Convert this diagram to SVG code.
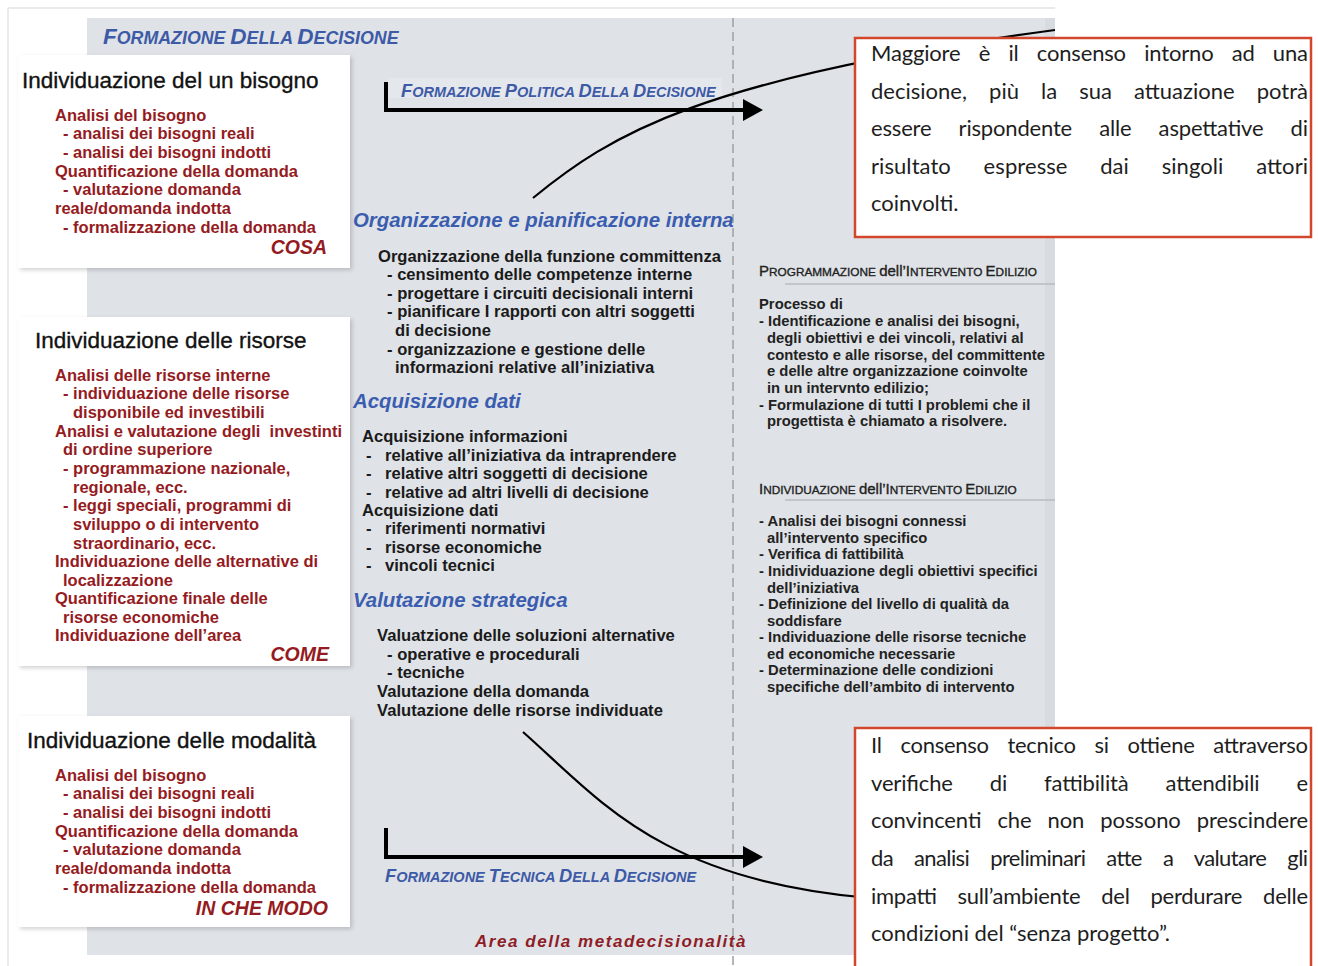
<svg xmlns="http://www.w3.org/2000/svg" width="1318" height="966" viewBox="0 0 1318 966">
  <defs>
    <style>
      .ttl { font-family: "Liberation Sans", Arial, sans-serif; font-size: 22.5px; fill: #121212; stroke: #121212; stroke-width: 0.35px; }
      .red { font-family: "Liberation Sans", Arial, sans-serif; font-size: 16.5px; font-weight: bold; fill: #951b22; }
      .redi { font-family: "Liberation Sans", Arial, sans-serif; font-size: 19.5px; font-weight: bold; font-style: italic; fill: #951b22; text-anchor: end; }
      .blk { font-family: "Liberation Sans", Arial, sans-serif; font-size: 16.6px; font-weight: bold; fill: #1a1a1a; }
      .hd { font-family: "Liberation Sans", Arial, sans-serif; font-size: 20.4px; font-weight: bold; font-style: italic; fill: #3a5db0; }
      .sc { font-family: "Liberation Sans", Arial, sans-serif; font-weight: bold; font-style: italic; fill: #3d5aa6; }
      .rt { font-family: "Liberation Sans", Arial, sans-serif; font-size: 14.8px; font-weight: bold; fill: #222; }
      .rsc { font-family: "Liberation Sans", Arial, sans-serif; fill: #222; stroke: #222; stroke-width: 0.35px; }
      .meta { font-family: "Liberation Sans", Arial, sans-serif; font-size: 17px; font-weight: bold; font-style: italic; fill: #8e1d26; letter-spacing: 1.55px; }
      .note { font-family: Lato, "Open Sans", "Liberation Sans", sans-serif; font-size: 22px; fill: #1e1e1e; }
      .box { fill: #ffffff; filter: url(#soft); }
      .callout { fill: #ffffff; stroke: #d2472c; stroke-width: 2.5px; }
      .flow { fill: none; stroke: #000; stroke-width: 4px; }
      .curve { fill: none; stroke: #000; stroke-width: 2.2px; }
      .uline { stroke: #b9bcc2; stroke-width: 1.5px; }
    </style>
    <filter id="soft" x="-5%" y="-5%" width="112%" height="112%">
      <feDropShadow dx="2" dy="2" stdDeviation="2" flood-color="#000" flood-opacity="0.18"/>
    </filter>
    <marker id="head" viewBox="0 0 20 22" markerWidth="20" markerHeight="22" refX="2" refY="11" orient="auto" markerUnits="userSpaceOnUse">
      <path d="M0,0 L20,11 L0,22 Z" fill="#000"/>
    </marker>
  </defs>

  <!-- page and panel -->
  <rect x="0" y="0" width="1318" height="966" fill="#ffffff"/>
  <line x1="8" y1="8" x2="1055" y2="8" stroke="#e4e4e4" stroke-width="1.5"/>
  <line x1="8" y1="8" x2="8" y2="966" stroke="#e4e4e4" stroke-width="1.5"/>
  <rect x="87" y="18" width="968" height="937" fill="#dfe2e7"/>
  <rect x="1045" y="18" width="10" height="937" fill="#d8dbe0"/>
  <line x1="733" y1="18" x2="733" y2="966" stroke="#a2a4a8" stroke-width="1.6" stroke-dasharray="9 5"/>

  <!-- section title -->
  <g id="title">
    <text class="sc" x="103" y="44" font-size="22.5"><tspan>F</tspan><tspan font-size="17.8">ORMAZIONE </tspan><tspan>D</tspan><tspan font-size="17.8">ELLA </tspan><tspan>D</tspan><tspan font-size="17.8">ECISIONE</tspan></text>
  </g>

  <!-- left column: need, resources, modality -->
  <g id="box-bisogno">
    <rect class="box" x="18" y="55" width="332" height="213"/>
    <text class="ttl" x="22" y="88">Individuazione del un bisogno</text>
    <text class="red" x="55" y="121">Analisi del bisogno</text>
    <text class="red" x="63" y="139">- analisi dei bisogni reali</text>
    <text class="red" x="63" y="158">- analisi dei bisogni indotti</text>
    <text class="red" x="55" y="177">Quantificazione della domanda</text>
    <text class="red" x="63" y="195">- valutazione domanda</text>
    <text class="red" x="55" y="214">reale/domanda indotta</text>
    <text class="red" x="63" y="233">- formalizzazione della domanda</text>
    <text class="redi" x="327" y="254">COSA</text>
  </g>

  <g id="box-risorse">
    <rect class="box" x="18" y="317" width="332" height="349"/>
    <text class="ttl" x="35" y="348">Individuazione delle risorse</text>
    <text class="red" x="55" y="381">Analisi delle risorse interne</text>
    <text class="red" x="63" y="399">- individuazione delle risorse</text>
    <text class="red" x="73" y="418">disponibile ed investibili</text>
    <text class="red" x="55" y="437">Analisi e valutazione degli &#160;investinti</text>
    <text class="red" x="63" y="455">di ordine superiore</text>
    <text class="red" x="63" y="474">- programmazione nazionale,</text>
    <text class="red" x="73" y="493">regionale, ecc.</text>
    <text class="red" x="63" y="511">- leggi speciali, programmi di</text>
    <text class="red" x="73" y="530">sviluppo o di intervento</text>
    <text class="red" x="73" y="549">straordinario, ecc.</text>
    <text class="red" x="55" y="567">Individuazione delle alternative di</text>
    <text class="red" x="63" y="586">localizzazione</text>
    <text class="red" x="55" y="604">Quantificazione finale delle</text>
    <text class="red" x="63" y="623">risorse economiche</text>
    <text class="red" x="55" y="641">Individuazione dell’area</text>
    <text class="redi" x="329" y="661">COME</text>
  </g>

  <g id="box-modalita">
    <rect class="box" x="18" y="716" width="332" height="211"/>
    <text class="ttl" x="27" y="748">Individuazione delle modalità</text>
    <text class="red" x="55" y="781">Analisi del bisogno</text>
    <text class="red" x="63" y="799">- analisi dei bisogni reali</text>
    <text class="red" x="63" y="818">- analisi dei bisogni indotti</text>
    <text class="red" x="55" y="837">Quantificazione della domanda</text>
    <text class="red" x="63" y="855">- valutazione domanda</text>
    <text class="red" x="55" y="874">reale/domanda indotta</text>
    <text class="red" x="63" y="893">- formalizzazione della domanda</text>
    <text class="redi" x="328" y="915">IN CHE MODO</text>
  </g>

  <!-- middle column -->
  <g id="label-politica">
    <rect x="388" y="78" width="334" height="20" fill="#e4e7ec"/>
    <text class="sc" x="401" y="97" font-size="18.3"><tspan>F</tspan><tspan font-size="14.5">ORMAZIONE </tspan><tspan>P</tspan><tspan font-size="14.5">OLITICA </tspan><tspan>D</tspan><tspan font-size="14.5">ELLA </tspan><tspan>D</tspan><tspan font-size="14.5">ECISIONE</tspan></text>
  </g>

  <g id="organizzazione">
    <text class="hd" x="353" y="227">Organizzazione e pianificazione interna</text>
    <text class="blk" x="378" y="262">Organizzazione della funzione committenza</text>
    <text class="blk" x="387" y="280">- censimento delle competenze interne</text>
    <text class="blk" x="387" y="299">- progettare i circuiti decisionali interni</text>
    <text class="blk" x="387" y="317">- pianificare I rapporti con altri soggetti</text>
    <text class="blk" x="395" y="336">di decisione</text>
    <text class="blk" x="387" y="355">- organizzazione e gestione delle</text>
    <text class="blk" x="395" y="373">informazioni relative all’iniziativa</text>
  </g>

  <g id="acquisizione">
    <text class="hd" x="353" y="408">Acquisizione dati</text>
    <text class="blk" x="362" y="442">Acquisizione informazioni</text>
    <text class="blk" y="461"><tspan x="366">-</tspan><tspan x="385">relative all’iniziativa da intraprendere</tspan></text>
    <text class="blk" y="479"><tspan x="366">-</tspan><tspan x="385">relative altri soggetti di decisione</tspan></text>
    <text class="blk" y="498"><tspan x="366">-</tspan><tspan x="385">relative ad altri livelli di decisione</tspan></text>
    <text class="blk" x="362" y="516">Acquisizione dati</text>
    <text class="blk" y="534"><tspan x="366">-</tspan><tspan x="385">riferimenti normativi</tspan></text>
    <text class="blk" y="553"><tspan x="366">-</tspan><tspan x="385">risorse economiche</tspan></text>
    <text class="blk" y="571"><tspan x="366">-</tspan><tspan x="385">vincoli tecnici</tspan></text>
  </g>

  <g id="valutazione">
    <text class="hd" x="353" y="607">Valutazione strategica</text>
    <text class="blk" x="377" y="641">Valuatzione delle soluzioni alternative</text>
    <text class="blk" x="387" y="660">- operative e procedurali</text>
    <text class="blk" x="387" y="678">- tecniche</text>
    <text class="blk" x="377" y="697">Valutazione della domanda</text>
    <text class="blk" x="377" y="716">Valutazione delle risorse individuate</text>
  </g>

  <g id="label-tecnica">
    <text class="sc" x="385" y="882" font-size="18.3"><tspan>F</tspan><tspan font-size="14.5">ORMAZIONE </tspan><tspan>T</tspan><tspan font-size="14.5">ECNICA </tspan><tspan>D</tspan><tspan font-size="14.5">ELLA </tspan><tspan>D</tspan><tspan font-size="14.5">ECISIONE</tspan></text>
  </g>

  <g id="label-meta">
    <text class="meta" x="475" y="947">Area della metadecisionalità</text>
  </g>

  <!-- right column -->
  <g id="programmazione">
    <text class="rsc" x="759" y="276" font-size="15"><tspan>P</tspan><tspan font-size="11.8">ROGRAMMAZIONE </tspan><tspan>dell’I</tspan><tspan font-size="11.8">NTERVENTO </tspan><tspan>E</tspan><tspan font-size="11.8">DILIZIO</tspan></text>
    <line class="uline" x1="785" y1="284" x2="1055" y2="284"/>
    <text class="rt" x="759" y="309">Processo di</text>
    <text class="rt" x="759" y="326">- Identificazione e analisi dei bisogni,</text>
    <text class="rt" x="767" y="343">degli obiettivi e dei vincoli, relativi al</text>
    <text class="rt" x="767" y="360">contesto e alle risorse, del committente</text>
    <text class="rt" x="767" y="376">e delle altre organizzazione coinvolte</text>
    <text class="rt" x="767" y="393">in un intervnto edilizio;</text>
    <text class="rt" x="759" y="410">- Formulazione di tutti I problemi che il</text>
    <text class="rt" x="767" y="426">progettista è chiamato a risolvere.</text>
  </g>

  <g id="individuazione-intervento">
    <text class="rsc" x="759" y="494" font-size="15"><tspan>I</tspan><tspan font-size="11.8">NDIVIDUAZIONE </tspan><tspan>dell’I</tspan><tspan font-size="11.8">NTERVENTO </tspan><tspan>E</tspan><tspan font-size="11.8">DILIZIO</tspan></text>
    <line class="uline" x1="785" y1="500" x2="1055" y2="500"/>
    <text class="rt" x="759" y="526">- Analisi dei bisogni connessi</text>
    <text class="rt" x="767" y="543">all’intervento specifico</text>
    <text class="rt" x="759" y="559">- Verifica di fattibilità</text>
    <text class="rt" x="759" y="576">- Inidividuazione degli obiettivi specifici</text>
    <text class="rt" x="767" y="593">dell’iniziativa</text>
    <text class="rt" x="759" y="609">- Definizione del livello di qualità da</text>
    <text class="rt" x="767" y="626">soddisfare</text>
    <text class="rt" x="759" y="642">- Individuazione delle risorse tecniche</text>
    <text class="rt" x="767" y="659">ed economiche necessarie</text>
    <text class="rt" x="759" y="675">- Determinazione delle condizioni</text>
    <text class="rt" x="767" y="692">specifiche dell’ambito di intervento</text>
  </g>

  <!-- connectors -->
  <g id="connectors">
    <path class="flow" d="M386,82 V110 H745" marker-end="url(#head)"/>
    <path class="flow" d="M386,828 V857 H745" marker-end="url(#head)"/>
    <path class="curve" d="M533,198 C610,135 700,78 1055,30"/>
    <path class="curve" d="M523,732 C600,800 660,880 870,898"/>
  </g>

  <!-- notes: justified paragraphs, each full line stretched to the column width -->
  <g id="note-consenso">
    <rect class="callout" x="855" y="38" width="456" height="199"/>
    <text class="note" x="871" y="61" word-spacing="12.8" textLength="437" lengthAdjust="spacing">Maggiore è il consenso intorno ad una</text>
    <text class="note" x="871" y="99" word-spacing="16.4" textLength="437" lengthAdjust="spacing">decisione, più la sua attuazione potrà</text>
    <text class="note" x="871" y="136" word-spacing="21.7" textLength="437" lengthAdjust="spacing">essere rispondente alle aspettative di</text>
    <text class="note" x="871" y="174" word-spacing="27" textLength="437" lengthAdjust="spacing">risultato espresse dai singoli attori</text>
    <text class="note" x="871" y="211">coinvolti.</text>
  </g>

  <g id="note-tecnico">
    <rect class="callout" x="855" y="728" width="456" height="250"/>
    <text class="note" x="871" y="753" word-spacing="13.4" textLength="437" lengthAdjust="spacing">Il consenso tecnico si ottiene attraverso</text>
    <text class="note" x="871" y="791" word-spacing="31.5" textLength="437" lengthAdjust="spacing">verifiche di fattibilità attendibili e</text>
    <text class="note" x="871" y="828" word-spacing="10.5" textLength="437" lengthAdjust="spacing">convincenti che non possono prescindere</text>
    <text class="note" x="871" y="866" word-spacing="16" textLength="437" lengthAdjust="spacing">da analisi preliminari atte a valutare gli</text>
    <text class="note" x="871" y="904" word-spacing="15.5" textLength="437" lengthAdjust="spacing">impatti sull’ambiente del perdurare delle</text>
    <text class="note" x="871" y="941">condizioni del “senza progetto”.</text>
  </g>
</svg>
